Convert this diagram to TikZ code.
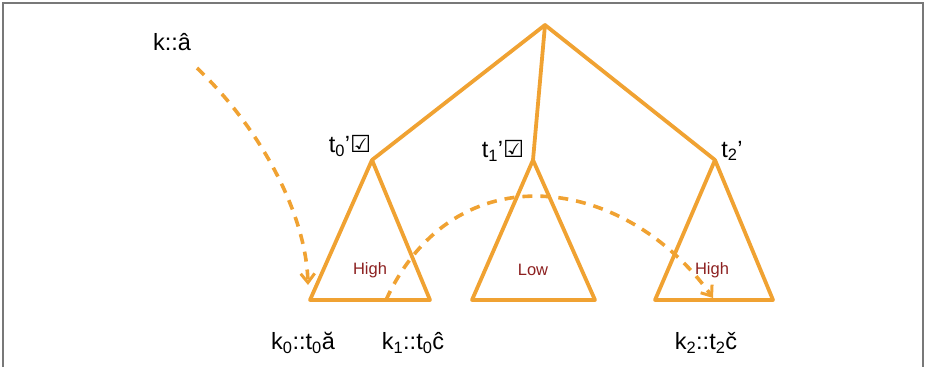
\documentclass[tikz,border=0pt]{standalone}
\usepackage{fontspec}
\setmainfont{Liberation Sans}
\newfontfamily\symfont{DejaVu Sans}
\usetikzlibrary{arrows.meta}
\definecolor{treeor}{RGB}{240,162,50}
\definecolor{lblred}{RGB}{140,32,32}
\definecolor{framegray}{RGB}{120,120,120}
\begin{document}
\begin{tikzpicture}[x=1pt,y=-1pt,
  treeline/.style={draw=treeor,line width=3.8pt,line join=round,line cap=round},
  dasharrow/.style={draw=treeor,line width=3.6pt,dash pattern=on 10pt off 8pt,
    -{Straight Barb[length=9pt,width=14pt,line width=3pt]}},
  lbl/.style={font=\fontsize{23.5}{26}\selectfont,inner sep=0pt},
  heat/.style={font=\fontsize{16.5}{18}\selectfont,text=lblred,inner sep=0pt}]
\useasboundingbox (0,0) rectangle (926,367);
\draw[framegray,line width=2.2pt] (3,367) -- (3,3) -- (923,3) -- (923,367);
% tree
\coordinate (root) at (545,25);
\coordinate (a0) at (372,160);
\coordinate (a1) at (533,160);
\coordinate (a2) at (715,160);
\coordinate (l0) at (310,300); \coordinate (r0) at (430,300);
\coordinate (l1) at (472,300); \coordinate (r1) at (595,300);
\coordinate (l2) at (655,300); \coordinate (r2) at (773,300);
\path[treeline] (root) -- (a0);
\path[treeline] (root) -- (a1);
\path[treeline] (root) -- (a2);
\path[treeline] (a0) -- (l0) -- (r0) -- cycle;
\path[treeline] (a1) -- (l1) -- (r1) -- cycle;
\path[treeline] (a2) -- (l2) -- (r2) -- cycle;
% labels
\node[lbl] (t0) at (350,146) {t\textsubscript{0}'{\symfont\bfseries\char"2611}};
\node[lbl] (t1) at (503,151) {t\textsubscript{1}'{\symfont\bfseries\char"2611}};
\node[lbl] (t2) at (732,151) {t\textsubscript{2}'};
\node[lbl] (k) at (172,42) {k::â};
\node[heat] (h0) at (370,270) {High};
\node[heat] (h1) at (533,270) {Low};
\node[heat] (h2) at (712,270) {High};
\node[lbl] (k0) at (303,343) {k\textsubscript{0}::t\textsubscript{0}ă};
\node[lbl] (k1) at (413,343) {k\textsubscript{1}::t\textsubscript{0}ĉ};
\node[lbl] (k2) at (706,343) {k\textsubscript{2}::t\textsubscript{2}č};
% dashed arrows
\coordinate (s1) at (197,68);
\coordinate (e1) at (308,285);
\coordinate (s2) at (386,300);
\coordinate (e2) at (713,298);
\path[dasharrow] (s1) .. controls (262,130) and (306,215) .. (e1);
\path[dasharrow] (s2) .. controls (455,150) and (625,175) .. (e2);
\end{tikzpicture}
\end{document}
